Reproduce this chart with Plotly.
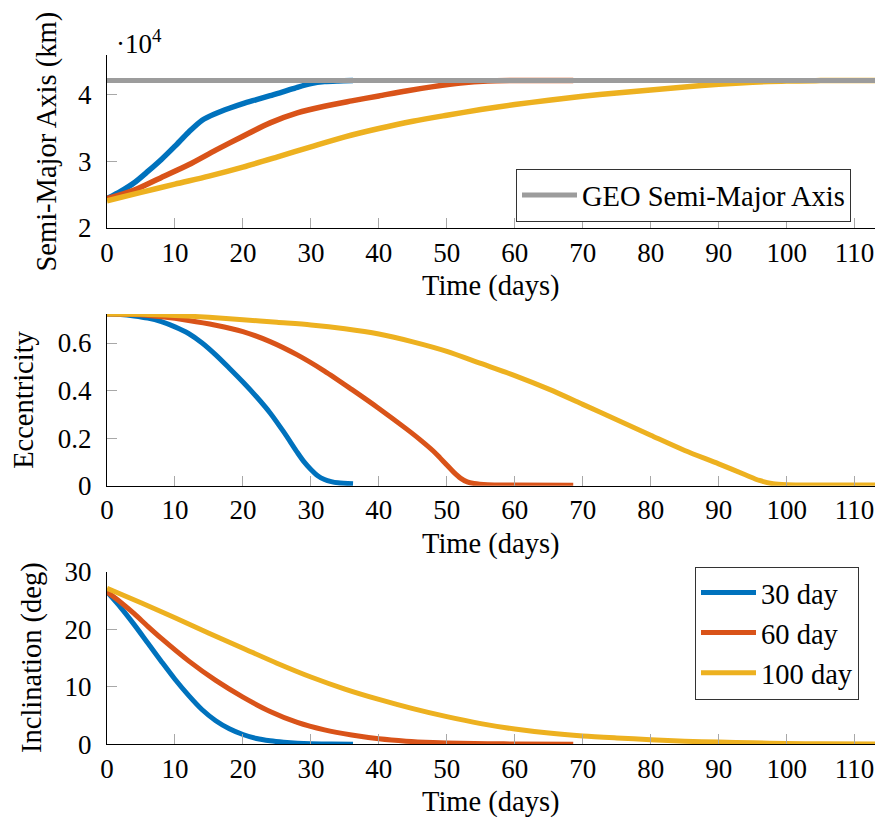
import plotly.graph_objects as go

# ---------------- data ----------------
geo_sma_km = 42164
x_max_days = 113

# Semi-major axis (km)
sma_30_t = [0, 2, 4, 6, 8, 10, 12, 14, 16, 18, 20, 22, 24, 26, 28, 30, 32, 34, 36.2]
sma_30_v = [24400, 25500, 26800, 28500, 30300, 32300, 34400, 36200, 37200, 38000, 38700,
            39300, 39900, 40500, 41150, 41700, 42000, 42100, 42150]
sma_60_t = [0, 4, 8, 12, 16, 20, 24, 28, 32, 36, 40, 44, 48, 52, 56, 60, 64, 68.6]
sma_60_v = [24400, 25700, 27600, 29500, 31700, 33800, 35800, 37300, 38300, 39100, 39850,
            40600, 41250, 41800, 42100, 42160, 42164, 42164]
sma_100_t = [0, 5, 10, 15, 20, 25, 30, 35, 40, 45, 50, 55, 60, 65, 70, 75, 80, 85, 90, 95,
             100, 105, 113]
sma_100_v = [24100, 25350, 26600, 27800, 29150, 30650, 32200, 33700, 34950, 36050, 36950,
             37800, 38550, 39200, 39800, 40300, 40750, 41200, 41600, 41900, 42100, 42150,
             42160]

# Eccentricity
ecc_30_t = [0, 2, 4, 6, 8, 10, 12, 14, 16, 18, 20, 22, 24, 26, 28, 29, 30, 31, 32, 33, 34,
            36.2]
ecc_30_v = [0.722, 0.720, 0.714, 0.705, 0.690, 0.668, 0.640, 0.600, 0.550, 0.494, 0.436,
            0.374, 0.306, 0.226, 0.140, 0.100, 0.068, 0.042, 0.026, 0.017, 0.012, 0.008]
ecc_60_t = [0, 4, 8, 12, 16, 20, 24, 28, 32, 36, 40, 44, 46, 48, 49, 50, 51, 52, 53, 54,
            56, 60, 68.6]
ecc_60_v = [0.722, 0.720, 0.710, 0.695, 0.675, 0.648, 0.606, 0.550, 0.482, 0.405, 0.325,
            0.240, 0.195, 0.146, 0.117, 0.087, 0.057, 0.032, 0.016, 0.009, 0.004, 0.003,
            0.002]
ecc_100_t = [0, 5, 10, 15, 20, 25, 30, 35, 40, 45, 50, 55, 60, 65, 70, 75, 80, 85, 90, 94,
             96, 98, 100, 105, 113]
ecc_100_v = [0.722, 0.721, 0.716, 0.708, 0.698, 0.687, 0.676, 0.660, 0.638, 0.605, 0.565,
             0.514, 0.463, 0.406, 0.342, 0.277, 0.212, 0.148, 0.092, 0.045, 0.022, 0.008,
             0.004, 0.003, 0.003]

# Inclination (deg)
inc_30_t = [0, 2, 4, 6, 8, 10, 12, 14, 16, 18, 20, 22, 24, 26, 28, 30, 33, 36.2]
inc_30_v = [26.5, 23.8, 20.8, 17.6, 14.4, 11.3, 8.5, 6.0, 4.1, 2.7, 1.7, 1.0, 0.6, 0.35,
            0.18, 0.09, 0.04, 0.02]
inc_60_t = [0, 2, 4, 6, 8, 12, 16, 20, 24, 28, 32, 36, 40, 44, 48, 52, 56, 60, 68.6]
inc_60_v = [26.5, 24.7, 22.7, 20.5, 18.4, 14.5, 11.1, 8.2, 5.7, 3.8, 2.5, 1.6, 0.95, 0.55,
            0.32, 0.18, 0.10, 0.06, 0.03]
inc_100_t = [0, 5, 10, 15, 20, 25, 30, 35, 40, 45, 50, 55, 60, 65, 70, 75, 80, 85, 90, 95,
             100, 105, 113]
inc_100_v = [27.1, 24.6, 22.0, 19.3, 16.7, 14.1, 11.7, 9.6, 7.8, 6.2, 4.8, 3.6, 2.65, 1.95,
             1.45, 1.1, 0.8, 0.55, 0.38, 0.25, 0.15, 0.09, 0.05]

series_names = ["30 day", "60 day", "100 day"]
x_ticks = list(range(0, 111, 10))
sma_ticks = [20000, 30000, 40000]
sma_tick_text = ["2", "3", "4"]
ecc_ticks = [0, 0.2, 0.4, 0.6]
ecc_tick_text = ["0", "0.2", "0.4", "0.6"]
inc_ticks = [0, 10, 20, 30]

# ---------------- styling ----------------
colors = ["#0072BD", "#D95319", "#EDB120"]
geo_color = "#9c9c9c"
FONT = "Liberation Serif"
W, H = 881, 823
TXT = 28.5
TICK = 27
LEG = 28.5

fig = go.Figure()

panels = [
    ("y", 5.5, [(sma_30_t, sma_30_v), (sma_60_t, sma_60_v), (sma_100_t, sma_100_v)]),
    ("y2", 5, [(ecc_30_t, ecc_30_v), (ecc_60_t, ecc_60_v), (ecc_100_t, ecc_100_v)]),
    ("y3", 5, [(inc_30_t, inc_30_v), (inc_60_t, inc_60_v), (inc_100_t, inc_100_v)]),
]
xaxes = {"y": "x", "y2": "x2", "y3": "x3"}

for yax, lw, data in panels:
    for i, (t, v) in enumerate(data):
        fig.add_trace(go.Scatter(
            x=t, y=v, mode="lines", name=series_names[i],
            line=dict(color=colors[i], width=lw, shape="spline", smoothing=0.8),
            xaxis=xaxes[yax], yaxis=yax,
            showlegend=(yax == "y3"), legend="legend",
        ))

fig.add_trace(go.Scatter(
    x=[0, x_max_days], y=[geo_sma_km, geo_sma_km], mode="lines",
    name="GEO Semi-Major Axis", line=dict(color=geo_color, width=5),
    xaxis="x", yaxis="y", showlegend=True, legend="legend2",
))

# pixel geometry of the three panels
left_px, right_px = 107, 875
panel_px = [(55, 228), (314, 485.7), (571.7, 744.3)]


def dom(top, bottom):
    return [1 - bottom / H, 1 - top / H]


def px_x(px):
    return (px - left_px) / (right_px - left_px)


def px_y(py):
    return 1 - py / H


common_x = dict(
    range=[0, x_max_days], tickvals=x_ticks, ticks="inside", ticklen=10,
    tickcolor="#a8a8a8", tickwidth=1, showline=True, linecolor="black", linewidth=1.2,
    showgrid=False, zeroline=False, tickfont=dict(family=FONT, size=TICK, color="black"),
    domain=[0, 1], automargin=False, ticklabelstandoff=0,
)
common_y = dict(
    ticks="inside", ticklen=10, tickcolor="#a8a8a8", tickwidth=1, showline=True,
    linecolor="black", linewidth=1.2, showgrid=False, zeroline=False,
    tickfont=dict(family=FONT, size=TICK, color="black"), automargin=False,
    ticklabelstandoff=9,
)

fig.update_layout(
    width=W, height=H,
    margin=dict(l=left_px, r=W - right_px, t=0, b=0),
    paper_bgcolor="white", plot_bgcolor="white",
    font=dict(family=FONT, color="black"),
    xaxis=dict(common_x, anchor="y"),
    xaxis2=dict(common_x, anchor="y2"),
    xaxis3=dict(common_x, anchor="y3"),
    yaxis=dict(common_y, domain=dom(*panel_px[0]), range=[20000, 46000],
               tickvals=sma_ticks, ticktext=sma_tick_text, anchor="x"),
    yaxis2=dict(common_y, domain=dom(*panel_px[1]), range=[0, 0.722],
                tickvals=ecc_ticks, ticktext=ecc_tick_text, anchor="x2"),
    yaxis3=dict(common_y, domain=dom(*panel_px[2]), range=[0, 30],
                tickvals=inc_ticks, anchor="x3"),
    legend=dict(
        x=px_x(859), y=px_y(633), xanchor="right", yanchor="middle",
        bgcolor="white", bordercolor="#333333", borderwidth=1, itemwidth=55,
        font=dict(family=FONT, size=LEG, color="black"), tracegroupgap=0,
    ),
    legend2=dict(
        x=px_x(851), y=px_y(222), xanchor="right", yanchor="bottom",
        bgcolor="white", bordercolor="#333333", borderwidth=1, itemwidth=55,
        font=dict(family=FONT, size=LEG, color="black"),
    ),
)

# axis titles as annotations
ann = []
for top, bottom in panel_px:
    ann.append(dict(text="Time (days)", x=0.5, y=px_y(bottom + 58),
                    xref="paper", yref="paper", xanchor="center", yanchor="middle",
                    showarrow=False, font=dict(family=FONT, size=TXT, color="black")))
ytitles = [("Semi-Major Axis (km)", 46), ("Eccentricity", 24), ("Inclination (deg)", 32)]
for (txt, xc), (top, bottom) in zip(ytitles, panel_px):
    ann.append(dict(text=txt, x=px_x(xc), y=px_y((top + bottom) / 2), xref="paper",
                    yref="paper", xanchor="center", yanchor="middle", textangle=-90,
                    showarrow=False, font=dict(family=FONT, size=TXT, color="black")))
ann.append(dict(text="·10<sup>4</sup>", x=px_x(114), y=px_y(42), xref="paper",
                yref="paper", xanchor="left", yanchor="middle", showarrow=False,
                font=dict(family=FONT, size=TICK, color="black")))
fig.update_layout(annotations=ann)

fig.write_html("out.html")
